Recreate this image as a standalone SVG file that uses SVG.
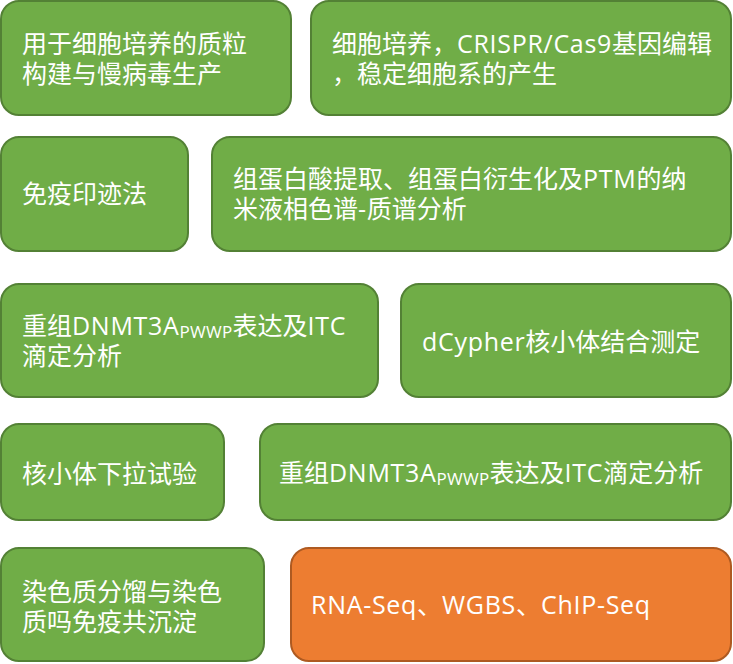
<svg xmlns="http://www.w3.org/2000/svg" width="733" height="664" viewBox="0 0 733 664">
<style>
.g{fill:#70AD47;stroke:#538135;stroke-width:2}
.o{fill:#ED7D31;stroke:#AE5A21;stroke-width:2}
text{font-family:"Open Sans","Noto Sans CJK SC","Microsoft YaHei",sans-serif;font-size:25px;fill:#FFFFFF}
.l{letter-spacing:0.7px}
.s{font-size:17px;letter-spacing:0.3px}
</style>
<rect width="733" height="664" fill="#FFFFFF"/>
<g id="connectors"></g>
<g id="n1"><rect class="g" x="1" y="1" width="290" height="114" rx="18"/><text x="22" y="53">用于细胞培养的质粒</text><text x="22" y="83">构建与慢病毒生产</text></g>
<g id="n2"><rect class="g" x="311" y="1" width="420" height="114" rx="18"/><text x="332" y="53">细胞培养，<tspan class="l">CRISPR/Cas9</tspan>基因编辑</text><text x="332" y="83">，稳定细胞系的产生</text></g>
<g id="n3"><rect class="g" x="1" y="137" width="187" height="114" rx="18"/><text x="22" y="203">免疫印迹法</text></g>
<g id="n4"><rect class="g" x="212" y="137" width="519" height="114" rx="18"/><text x="233" y="188">组蛋白酸提取、组蛋白衍生化及<tspan class="l">PTM</tspan>的纳</text><text x="233" y="218">米液相色谱<tspan class="l">-</tspan>质谱分析</text></g>
<g id="n5"><rect class="g" x="1" y="284" width="377" height="113" rx="18"/><text x="22" y="335">重组<tspan class="l">DNMT3A</tspan><tspan class="s" dy="3">PWWP</tspan><tspan dy="-3">表达及</tspan><tspan class="l">ITC</tspan></text><text x="22" y="365">滴定分析</text></g>
<g id="n6"><rect class="g" x="401" y="284" width="330" height="113" rx="18"/><text x="422" y="351"><tspan class="l">dCypher</tspan>核小体结合测定</text></g>
<g id="n7"><rect class="g" x="1" y="424" width="223" height="96" rx="18"/><text x="22" y="483">核小体下拉试验</text></g>
<g id="n8"><rect class="g" x="260" y="424" width="471" height="96" rx="18"/><text x="279" y="482">重组<tspan class="l">DNMT3A</tspan><tspan class="s" dy="3">PWWP</tspan><tspan dy="-3">表达及</tspan><tspan class="l">ITC</tspan>滴定分析</text></g>
<g id="n9"><rect class="g" x="1" y="548" width="263" height="113" rx="18"/><text x="22" y="601">染色质分馏与染色</text><text x="22" y="631">质吗免疫共沉淀</text></g>
<g id="n10"><rect class="o" x="291" y="548" width="440" height="113" rx="18"/><text x="311" y="614"><tspan class="l">RNA-Seq</tspan>、<tspan class="l">WGBS</tspan>、<tspan class="l">ChIP-Seq</tspan></text></g>
</svg>
